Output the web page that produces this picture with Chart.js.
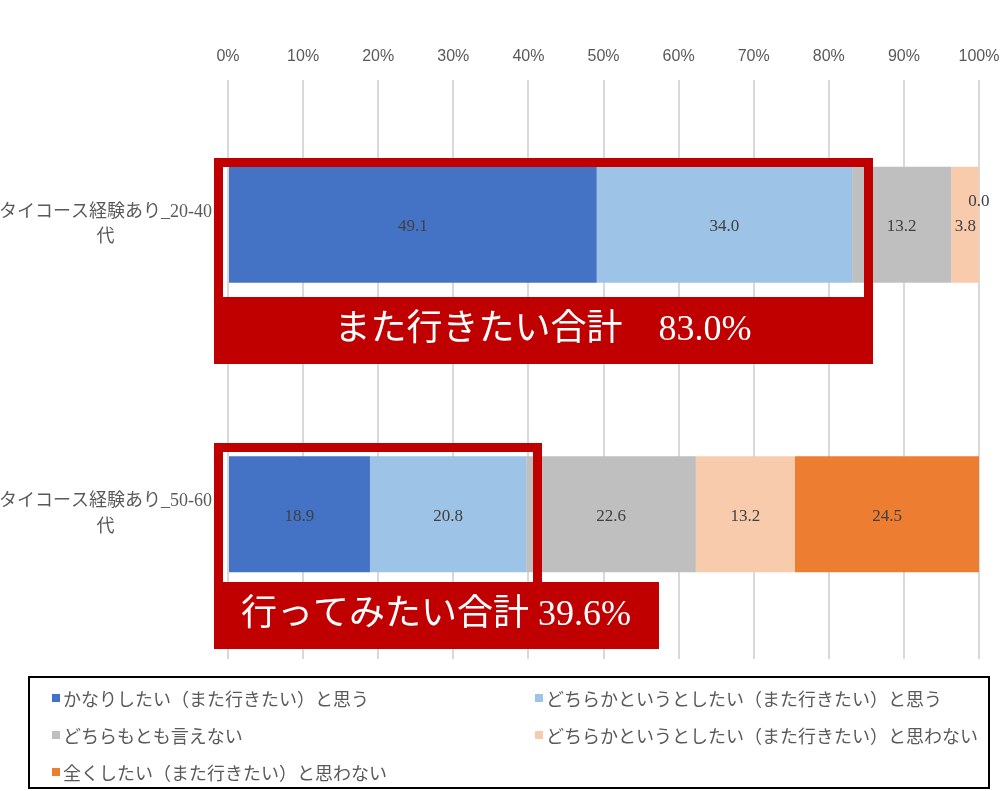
<!DOCTYPE html>
<html>
<head>
<meta charset="utf-8">
<script src="https://cdn.jsdelivr.net/npm/chart.js@4/dist/chart.umd.min.js"></script>
<style>
    html, body { margin: 0; padding: 0; background: #fff; }
    #wrap { position: relative; width: 1003px; height: 791px; }
    #legendBox {
        position: absolute; left: 28px; top: 676px; width: 958px; height: 109px;
        border: 2px solid #000; box-sizing: content-box;
    }
    .legend-item {
        position: absolute; display: flex; align-items: center;
        font: 18px "Noto Sans CJK JP", sans-serif; color: #595959; white-space: nowrap;
    }
    .legend-item .swatch { width: 8px; height: 8px; margin-right: 3px; }
</style>
</head>
<body>
<div id="wrap">
    <canvas id="chart" width="1003" height="791"></canvas>
    <div id="legendBox"></div>
</div>
<script>
// categories (two lines each)
const categories = [
    ['タイコース経験あり_20-40', '代'],
    ['タイコース経験あり_50-60', '代']
];
const tickLabels = ['0%', '10%', '20%', '30%', '40%', '50%', '60%', '70%', '80%', '90%', '100%'];

const seriesNames = [
    'かなりしたい（また行きたい）と思う',
    'どちらかというとしたい（また行きたい）と思う',
    'どちらもとも言えない',
    'どちらかというとしたい（また行きたい）と思わない',
    '全くしたい（また行きたい）と思わない'
];
const seriesColors = ['#4472C4', '#9DC3E6', '#BFBFBF', '#F8CBAD', '#ED7D31'];

const stronglyYes = [49.1, 18.9];
const somewhatYes = [34.0, 20.8];
const neutral = [13.2, 22.6];
const somewhatNo = [3.8, 13.2];
const stronglyNo = [0.0, 24.5];
const seriesValues = [stronglyYes, somewhatYes, neutral, somewhatNo, stronglyNo];

const calloutTexts = ['また行きたい合計　83.0%', '行ってみたい合計 39.6%'];

const MIXED_FONT = '"Liberation Serif", "Noto Sans CJK JP"';

// value labels centred in each segment
const valueLabels = {
    id: 'valueLabels',
    afterDatasetsDraw(chart) {
        const ctx = chart.ctx;
        ctx.save();
        ctx.font = '17px ' + MIXED_FONT;
        ctx.fillStyle = '#404040';
        ctx.textAlign = 'center';
        ctx.textBaseline = 'middle';
        chart.data.datasets.forEach((ds, i) => {
            chart.getDatasetMeta(i).data.forEach((bar, j) => {
                const v = ds.data[j];
                if (v === 0) {
                    ctx.fillText(v.toFixed(1), bar.x - 1, bar.y - 23);
                } else {
                    ctx.fillText(v.toFixed(1), (bar.x + bar.base) / 2, bar.y + 2);
                }
            });
        });
        ctx.restore();
    }
};

// red callout frames + banners
const callouts = {
    id: 'callouts',
    afterDraw(chart) {
        const ctx = chart.ctx;
        ctx.save();
        ctx.fillStyle = '#C00000';
        // box 1
        ctx.fillRect(214, 158, 659, 9);
        ctx.fillRect(214, 158, 9, 140);
        ctx.fillRect(864, 158, 9, 140);
        ctx.fillRect(214, 297, 659, 67);
        // box 2
        ctx.fillRect(214, 443, 328, 9);
        ctx.fillRect(214, 443, 9, 140);
        ctx.fillRect(533, 443, 9, 140);
        ctx.fillRect(214, 582, 445, 67);

        ctx.fillStyle = '#fff';
        ctx.font = '36px ' + MIXED_FONT;
        ctx.textAlign = 'center';
        ctx.textBaseline = 'middle';
        ctx.fillText(calloutTexts[0], 543, 331);
        ctx.fillText(calloutTexts[1], 436, 616);
        ctx.restore();
    }
};

const chart = new Chart(document.getElementById('chart').getContext('2d'), {
    type: 'bar',
    data: {
        labels: categories,
        datasets: seriesNames.map((name, i) => ({
            label: name,
            data: seriesValues[i],
            backgroundColor: seriesColors[i],
            borderWidth: 0,
            barPercentage: 1,
            categoryPercentage: 0.4
        }))
    },
    options: {
        indexAxis: 'y',
        responsive: false,
        animation: false,
        layout: { padding: { top: 0, right: 24, bottom: 132, left: 0 } },
        scales: {
            x: {
                position: 'top',
                stacked: true,
                min: 0,
                max: 100,
                grid: { color: '#D9D9D9', lineWidth: 2, drawTicks: false },
                border: { display: false },
                ticks: {
                    stepSize: 10,
                    padding: 14,
                    color: '#595959',
                    font: { family: '"Liberation Sans"', size: 16 },
                    callback: (v, i) => tickLabels[i]
                },
                afterFit: scale => {
                    scale.height = 80;
                    scale.paddingLeft = 0;
                    scale.paddingRight = 0;
                }
            },
            y: {
                stacked: true,
                grid: { display: false },
                border: { display: false },
                ticks: {
                    padding: 8,
                    crossAlign: 'center',
                    color: '#595959',
                    font: { family: MIXED_FONT, size: 18, lineHeight: 1.4 }
                },
                afterFit: scale => { scale.width = 228; }
            }
        },
        plugins: {
            legend: { display: false },
            tooltip: { enabled: false }
        }
    },
    plugins: [valueLabels, callouts]
});

// html legend from the series arrays
const legendBox = document.getElementById('legendBox');
const legendPos = [[22, 7], [505, 7], [22, 44], [505, 44], [22, 81]];
seriesNames.forEach((name, i) => {
    const item = document.createElement('div');
    item.className = 'legend-item';
    item.style.left = legendPos[i][0] + 'px';
    item.style.top = legendPos[i][1] + 'px';
    const sw = document.createElement('span');
    sw.className = 'swatch';
    sw.style.background = seriesColors[i];
    const txt = document.createElement('span');
    txt.textContent = name;
    item.appendChild(sw);
    item.appendChild(txt);
    legendBox.appendChild(item);
});
</script>
</body>
</html>
